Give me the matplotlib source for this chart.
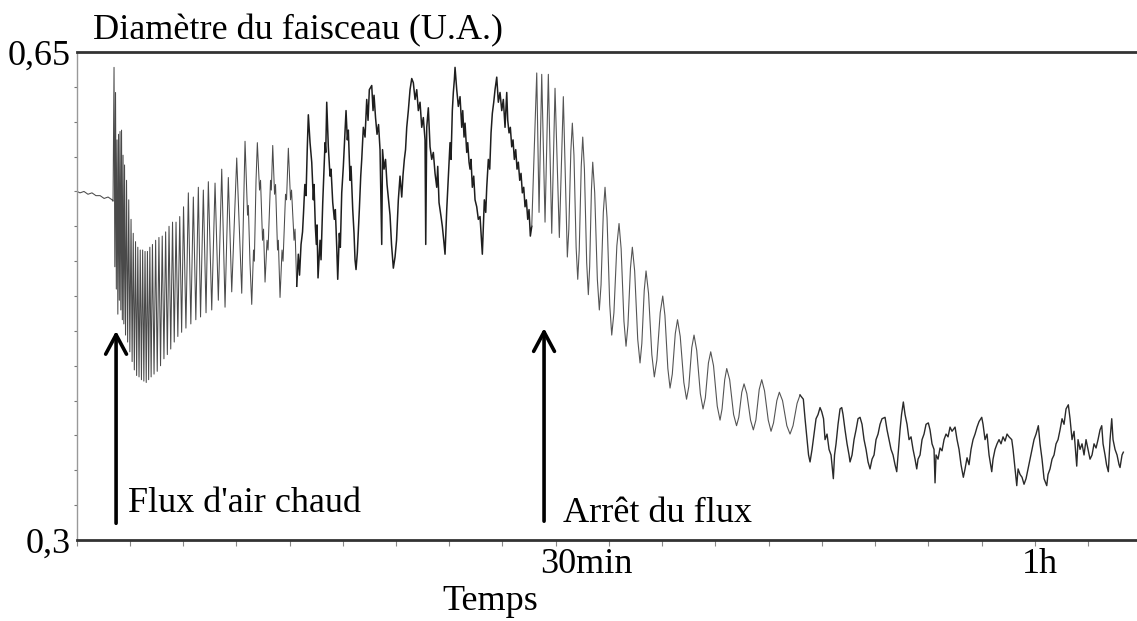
import numpy as np
import matplotlib
matplotlib.use("Agg")
import matplotlib.pyplot as plt

plt.rcParams['font.family'] = 'Liberation Serif'

# (time in min, beam diameter in U.A.)
before = [(0.03, 0.550), (0.21, 0.549), (0.46, 0.550), (0.71, 0.548), (0.96, 0.549),
          (1.21, 0.547), (1.47, 0.547), (1.72, 0.545), (1.97, 0.546), (2.22, 0.544),
          (2.28, 0.543)]

# hot air switched on: fast oscillations
onset = [(2.342, 0.639), (2.392, 0.496), (2.436, 0.621), (2.486, 0.480), (2.530, 0.587),
         (2.580, 0.462), (2.624, 0.591), (2.674, 0.472), (2.718, 0.593), (2.768, 0.465),
         (2.812, 0.594), (2.862, 0.458), (2.906, 0.576), (2.956, 0.455), (3.000, 0.569),
         (3.062, 0.447), (3.125, 0.558), (3.194, 0.442), (3.263, 0.544), (3.331, 0.435),
         (3.407, 0.530), (3.475, 0.428), (3.544, 0.520), (3.613, 0.422), (3.688, 0.514),
         (3.757, 0.418), (3.832, 0.510), (3.907, 0.417), (3.983, 0.508), (4.058, 0.415),
         (4.133, 0.508), (4.208, 0.414), (4.283, 0.507), (4.358, 0.413), (4.433, 0.507),
         (4.509, 0.415), (4.584, 0.510), (4.665, 0.417), (4.747, 0.512), (4.847, 0.419),
         (4.947, 0.515), (5.047, 0.421), (5.154, 0.517), (5.254, 0.425), (5.360, 0.518),
         (5.467, 0.430), (5.573, 0.521), (5.680, 0.433), (5.786, 0.525), (5.893, 0.437),
         (6.005, 0.528), (6.112, 0.442), (6.224, 0.528), (6.337, 0.446), (6.456, 0.532),
         (6.575, 0.449), (6.694, 0.539), (6.844, 0.452), (6.995, 0.549), (7.151, 0.455),
         (7.308, 0.546), (7.464, 0.458), (7.621, 0.553), (7.759, 0.460), (7.934, 0.551),
         (8.103, 0.463), (8.247, 0.557), (8.460, 0.465), (8.667, 0.556), (8.873, 0.472),
         (9.086, 0.566), (9.293, 0.467), (9.499, 0.560), (9.712, 0.478), (10.025, 0.574),
         (10.339, 0.477)]

growth = [(10.545, 0.586), (10.702, 0.533), (10.752, 0.540), (10.858, 0.498), (10.965, 0.469),
          (11.077, 0.508), (11.128, 0.500), (11.234, 0.558), (11.316, 0.585), (11.453, 0.551),
          (11.516, 0.558), (11.641, 0.515), (11.704, 0.523), (11.798, 0.485), (11.923, 0.515),
          (11.986, 0.508), (12.142, 0.558), (12.192, 0.551), (12.280, 0.583), (12.393, 0.548),
          (12.455, 0.555), (12.580, 0.508), (12.631, 0.515), (12.737, 0.474), (12.862, 0.508),
          (12.925, 0.500), (13.081, 0.548), (13.144, 0.544), (13.257, 0.581), (13.394, 0.544),
          (13.457, 0.551), (13.614, 0.515), (13.676, 0.523), (13.783, 0.482)]

# slow noisy swings while the flux is on
slow = [(13.883, 0.505), (13.958, 0.490), (14.052, 0.512), (14.146, 0.521), (14.209, 0.535),
        (14.290, 0.555), (14.365, 0.547), (14.440, 0.580), (14.509, 0.605),
        (14.616, 0.585), (14.722, 0.571), (14.822, 0.544), (14.866, 0.555), (14.947, 0.525),
        (15.010, 0.512), (15.054, 0.526), (15.116, 0.488),
        (15.242, 0.515), (15.304, 0.501), (15.411, 0.542), (15.448, 0.553), (15.555, 0.585),
        (15.599, 0.578), (15.661, 0.614),
        (15.761, 0.582), (15.868, 0.561), (15.931, 0.566), (16.037, 0.542), (16.137, 0.530),
        (16.200, 0.537), (16.288, 0.510), (16.350, 0.487),
        (16.450, 0.520), (16.513, 0.510), (16.600, 0.549), (16.701, 0.568), (16.788, 0.589),
        (16.870, 0.608),
        (16.951, 0.587), (17.014, 0.594), (17.120, 0.558), (17.183, 0.568), (17.289, 0.537),
        (17.371, 0.520), (17.433, 0.501), (17.496, 0.494),
        (17.577, 0.506), (17.703, 0.537), (17.790, 0.561), (17.853, 0.573), (17.953, 0.596),
        (18.060, 0.589), (18.166, 0.616), (18.248, 0.601), (18.329, 0.623), (18.479, 0.626),
        (18.561, 0.608), (18.623, 0.619),
        (18.717, 0.603), (18.811, 0.591), (18.905, 0.598), (18.999, 0.580), (19.105, 0.512),
        (19.155, 0.580), (19.249, 0.566), (19.343, 0.573), (19.437, 0.555), (19.531, 0.544),
        (19.625, 0.533), (19.719, 0.512), (19.832, 0.495),
        (19.938, 0.503), (20.032, 0.515), (20.145, 0.544), (20.251, 0.561), (20.358, 0.546),
        (20.439, 0.562), (20.521, 0.573), (20.596, 0.580), (20.671, 0.596), (20.771, 0.608),
        (20.878, 0.623), (20.984, 0.631),
        (21.084, 0.628), (21.191, 0.616), (21.297, 0.623), (21.397, 0.608), (21.504, 0.614),
        (21.610, 0.596), (21.710, 0.603), (21.817, 0.587), (21.861, 0.512), (21.923, 0.596),
        (22.023, 0.610), (22.130, 0.582), (22.236, 0.573), (22.337, 0.578), (22.443, 0.563),
        (22.550, 0.553), (22.612, 0.568), (22.693, 0.542), (22.819, 0.532), (22.900, 0.525),
        (22.988, 0.515), (23.069, 0.505),
        (23.176, 0.537), (23.276, 0.561), (23.382, 0.585), (23.445, 0.573), (23.526, 0.608),
        (23.589, 0.621), (23.652, 0.630), (23.696, 0.639),
        (23.802, 0.623), (23.902, 0.611), (24.009, 0.618), (24.115, 0.596), (24.178, 0.608),
        (24.259, 0.589), (24.322, 0.599), (24.428, 0.578), (24.491, 0.585), (24.572, 0.571),
        (24.635, 0.566), (24.697, 0.573), (24.779, 0.553), (24.866, 0.561), (24.948, 0.544),
        (25.054, 0.539), (25.154, 0.530), (25.261, 0.532), (25.324, 0.520), (25.405, 0.505),
        (25.530, 0.544), (25.618, 0.535), (25.681, 0.553), (25.781, 0.573), (25.868, 0.566),
        (25.950, 0.592), (26.031, 0.606), (26.119, 0.614), (26.200, 0.623), (26.307, 0.632),
        (26.407, 0.614), (26.513, 0.621), (26.620, 0.608), (26.720, 0.616), (26.826, 0.596),
        (26.933, 0.621), (26.996, 0.601), (27.077, 0.592), (27.158, 0.596), (27.246, 0.582),
        (27.327, 0.587), (27.409, 0.573), (27.496, 0.580), (27.578, 0.566), (27.659, 0.571),
        (27.747, 0.558), (27.828, 0.563), (27.910, 0.549), (27.997, 0.553), (28.079, 0.539),
        (28.160, 0.544), (28.248, 0.530), (28.329, 0.537), (28.411, 0.518), (28.499, 0.525)]

# flux stopped: damped oscillations
cooling = [(28.812, 0.635), (28.956, 0.535), (29.124, 0.634), (29.331, 0.528), (29.538, 0.634),
           (29.751, 0.520), (29.957, 0.624), (30.227, 0.517), (30.477, 0.618), (30.728, 0.503),
           (30.822, 0.523), (30.947, 0.579), (31.041, 0.599), (31.142, 0.576), (31.278, 0.510),
           (31.379, 0.487), (31.473, 0.508), (31.598, 0.568), (31.692, 0.589), (31.797, 0.566),
           (31.939, 0.499), (32.043, 0.476), (32.126, 0.496), (32.236, 0.551), (32.318, 0.571),
           (32.442, 0.549), (32.607, 0.487), (32.731, 0.465), (32.838, 0.483), (32.981, 0.535),
           (33.088, 0.553), (33.214, 0.531), (33.382, 0.469), (33.508, 0.447), (33.645, 0.463),
           (33.828, 0.511), (33.965, 0.527), (34.096, 0.509), (34.272, 0.457), (34.403, 0.439),
           (34.522, 0.454), (34.680, 0.495), (34.798, 0.510), (34.943, 0.493), (35.135, 0.444),
           (35.280, 0.427), (35.393, 0.441), (35.543, 0.479), (35.656, 0.493), (35.812, 0.477),
           (36.019, 0.433), (36.175, 0.417), (36.333, 0.429), (36.544, 0.463), (36.702, 0.475),
           (36.839, 0.461), (37.022, 0.423), (37.159, 0.409), (37.300, 0.419), (37.487, 0.448),
           (37.628, 0.458), (37.797, 0.446), (38.023, 0.413), (38.192, 0.401), (38.333, 0.410),
           (38.520, 0.438), (38.661, 0.447), (38.830, 0.436), (39.056, 0.405), (39.225, 0.394),
           (39.370, 0.402), (39.562, 0.427), (39.707, 0.435), (39.882, 0.425), (40.115, 0.396),
           (40.290, 0.386), (40.416, 0.394), (40.583, 0.415), (40.709, 0.423), (40.893, 0.415),
           (41.139, 0.390), (41.323, 0.382), (41.464, 0.388), (41.652, 0.406), (41.793, 0.412),
           (41.968, 0.405), (42.200, 0.386), (42.375, 0.379), (42.533, 0.386), (42.743, 0.408),
           (42.901, 0.415), (43.076, 0.407), (43.308, 0.386), (43.483, 0.378), (43.639, 0.384),
           (43.847, 0.400), (44.003, 0.406), (44.204, 0.400), (44.472, 0.382), (44.673, 0.376),
           (44.861, 0.382), (45.114, 0.398), (45.299, 0.404)]

tail = [(45.506, 0.401), (45.613, 0.387), (45.738, 0.372), (45.832, 0.361), (45.926, 0.356),
        (46.051, 0.365), (46.176, 0.376), (46.301, 0.387), (46.427, 0.390), (46.552, 0.395),
        (46.658, 0.392), (46.771, 0.387), (46.865, 0.372), (46.990, 0.376), (47.115, 0.365),
        (47.241, 0.361), (47.385, 0.344), (47.460, 0.361), (47.554, 0.369), (47.679, 0.383),
        (47.804, 0.394), (47.911, 0.395), (47.992, 0.390), (48.117, 0.379), (48.243, 0.369),
        (48.368, 0.361), (48.430, 0.356), (48.556, 0.361), (48.681, 0.372), (48.806, 0.379),
        (48.931, 0.387), (49.057, 0.388), (49.182, 0.383), (49.307, 0.372), (49.433, 0.365),
        (49.558, 0.356), (49.683, 0.351), (49.809, 0.358), (49.934, 0.361), (50.058, 0.372),
        (50.184, 0.376), (50.309, 0.383), (50.434, 0.387), (50.622, 0.388), (50.747, 0.379),
        (50.873, 0.372), (50.998, 0.365), (51.123, 0.361), (51.248, 0.354), (51.355, 0.349),
        (51.436, 0.361), (51.561, 0.379), (51.655, 0.390), (51.768, 0.399), (51.875, 0.390),
        (52.000, 0.383), (52.125, 0.372), (52.250, 0.374), (52.376, 0.365), (52.501, 0.358),
        (52.607, 0.351), (52.689, 0.358), (52.814, 0.361), (52.939, 0.372), (53.064, 0.376),
        (53.190, 0.383), (53.333, 0.384), (53.440, 0.379), (53.565, 0.369), (53.690, 0.365),
        (53.753, 0.341), (53.816, 0.361), (53.941, 0.358), (54.066, 0.366), (54.191, 0.364),
        (54.317, 0.372), (54.442, 0.376), (54.567, 0.374), (54.693, 0.381), (54.818, 0.378),
        (55.007, 0.381), (55.131, 0.372), (55.256, 0.365), (55.381, 0.354), (55.525, 0.345),
        (55.632, 0.351), (55.757, 0.359), (55.882, 0.354), (56.007, 0.365), (56.133, 0.372),
        (56.258, 0.376), (56.383, 0.381), (56.509, 0.385), (56.677, 0.388), (56.759, 0.383),
        (56.884, 0.372), (57.009, 0.376), (57.135, 0.361), (57.304, 0.349), (57.385, 0.358),
        (57.510, 0.365), (57.636, 0.369), (57.761, 0.372), (57.886, 0.369), (58.011, 0.374),
        (58.137, 0.371), (58.262, 0.376), (58.387, 0.374), (58.557, 0.372), (58.639, 0.365),
        (58.764, 0.351), (58.871, 0.339), (58.953, 0.351), (59.078, 0.347), (59.201, 0.345),
        (59.326, 0.340), (59.451, 0.344), (59.577, 0.351), (59.702, 0.358), (59.827, 0.365),
        (59.952, 0.372), (60.078, 0.376), (60.222, 0.382), (60.328, 0.369), (60.453, 0.358),
        (60.579, 0.344), (60.748, 0.339), (60.829, 0.347), (60.954, 0.351), (61.080, 0.358),
        (61.205, 0.361), (61.330, 0.369), (61.455, 0.372), (61.581, 0.379), (61.706, 0.387),
        (61.831, 0.383), (61.956, 0.394), (62.100, 0.397), (62.207, 0.387), (62.332, 0.372),
        (62.457, 0.378), (62.626, 0.353), (62.708, 0.372), (62.833, 0.365), (62.958, 0.369),
        (63.083, 0.361), (63.209, 0.372), (63.334, 0.365), (63.459, 0.358), (63.584, 0.361),
        (63.710, 0.369), (63.835, 0.366), (63.960, 0.372), (64.085, 0.379), (64.192, 0.382),
        (64.274, 0.369), (64.398, 0.361), (64.493, 0.354), (64.605, 0.349), (64.712, 0.372),
        (64.818, 0.387), (64.900, 0.372), (65.025, 0.365), (65.150, 0.361), (65.276, 0.354),
        (65.338, 0.352), (65.463, 0.361), (65.545, 0.363)]

heat_on = 2.47    # min
heat_off = 29.27  # min

fig = plt.figure(figsize=(11.37, 6.21), dpi=100)
ax = fig.add_axes([0.0674, 0.1304, 0.9326, 0.7858])

# draw piece by piece, each piece starting where the previous one ends
pieces = [(before + onset + growth, '#4a4a4a', 0.75),
          (growth[-1:] + slow, '#1e1e1e', 1.1),
          (slow[-1:] + cooling, '#555555', 0.8),
          (cooling[-1:] + tail, '#2a2a2a', 1.0)]
for pts, col, w in pieces:
    t, d = np.array(pts).T
    ax.plot(t, d, color=col, lw=w)

ax.set_xlim(0, 66.4)
ax.set_ylim(0.3, 0.65)

for side in ['top', 'bottom']:
    ax.spines[side].set_linewidth(2.0)
    ax.spines[side].set_color('#333333')
ax.spines['left'].set_linewidth(1.0)
ax.spines['left'].set_color('#999999')
ax.spines['right'].set_visible(False)

# ticks every 200 s
ax.set_xticks(np.arange(0, 66.4, 10 / 3))
ax.set_xticklabels([])
ax.tick_params(axis='x', direction='out', length=4, width=0.8, color='#888888')

ax.set_yticks([0.3, 0.65])
ax.set_yticklabels(['0,3', '0,65'], fontsize=26)
ax.set_yticks(np.arange(0.325, 0.65, 0.025), minor=True)
ax.tick_params(axis='y', which='major', length=0, pad=4)
ax.tick_params(axis='y', which='minor', direction='out', length=2.5, width=0.8, color='#777777')

ax.annotate('30min', xy=(30, 0), xycoords=('data', 'axes fraction'),
            xytext=(-11.5, -6), textcoords='offset points', ha='left', va='top', fontsize=26)
ax.annotate('1h', xy=(60, 0), xycoords=('data', 'axes fraction'),
            xytext=(-9, -6), textcoords='offset points', ha='left', va='top', fontsize=26)

fig.text(0.0818, 0.937, 'Diamètre du faisceau (U.A.)', fontsize=26, va='baseline')
fig.text(0.431, 0.018, 'Temps', fontsize=26, ha='center', va='baseline')

arrow = dict(arrowstyle='->,head_length=1.4,head_width=0.75', lw=2.6, color='black',
             shrinkA=0, shrinkB=0)
ax.annotate('', xy=(heat_on, 0.450), xytext=(heat_on, 0.312), arrowprops=arrow)
ax.annotate('', xy=(heat_off, 0.452), xytext=(heat_off, 0.3135), arrowprops=arrow)

fig.text(0.1126, 0.1755, "Flux d'air chaud", fontsize=26, va='baseline')
fig.text(0.4952, 0.1594, 'Arrêt du flux', fontsize=26, va='baseline')

fig.savefig('out.png', dpi=100)
